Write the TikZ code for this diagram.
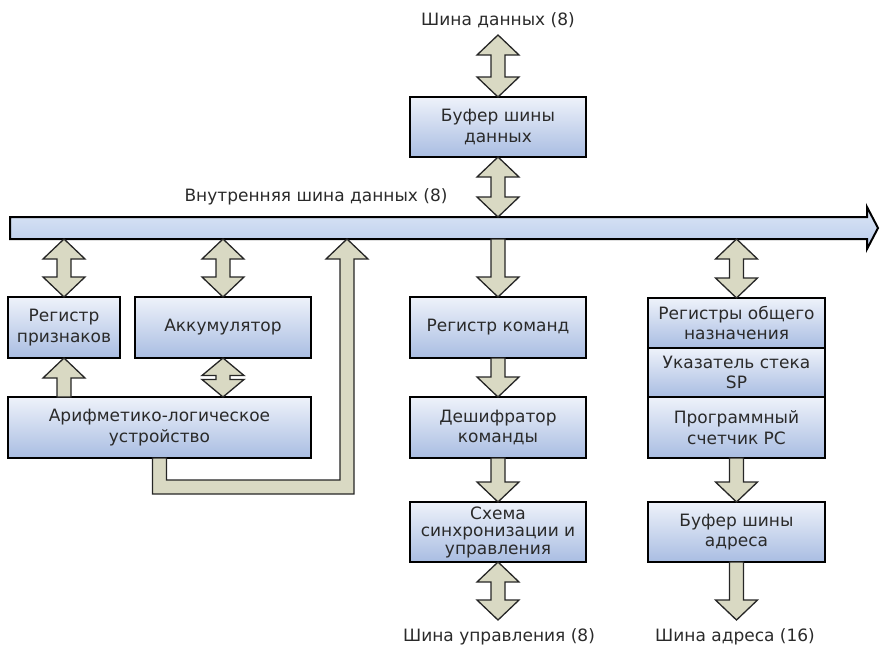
\documentclass[tikz,border=0pt]{standalone}
\usepackage{fontspec}
\setmainfont{DejaVu Sans}
\usetikzlibrary{calc}

\definecolor{boxtop}{HTML}{EEF2FA}
\definecolor{boxbot}{HTML}{A9BDE2}
\definecolor{bustop}{HTML}{DCE6F6}
\definecolor{busbot}{HTML}{B9CCEC}
\definecolor{arrfill}{HTML}{D9D9C3}
\definecolor{txt}{HTML}{2A2A2A}

% block arrows between two points on one vertical line
\newcommand\bothway[2]{%
  \path[blk] let \p1=#1, \p2=#2, \n1={min(20pt,(\y1-\y2-4pt)/2)} in
    (\x1,\y1) -- (\x1+21pt,\y1-\n1) -- (\x1+7pt,\y1-\n1) -- (\x1+7pt,\y2+\n1)
    -- (\x1+21pt,\y2+\n1) -- (\x1,\y2) -- (\x1-21pt,\y2+\n1) -- (\x1-7pt,\y2+\n1)
    -- (\x1-7pt,\y1-\n1) -- (\x1-21pt,\y1-\n1) -- cycle;}
\newcommand\downward[2]{%
  \path[blk] let \p1=#1, \p2=#2 in
    (\x1-7pt,\y1) -- (\x1+7pt,\y1) -- (\x1+7pt,\y2+20pt) -- (\x1+21pt,\y2+20pt)
    -- (\x1,\y2) -- (\x1-21pt,\y2+20pt) -- (\x1-7pt,\y2+20pt) -- cycle;}
\newcommand\upward[2]{%
  \path[blk] let \p1=#1, \p2=#2 in
    (\x1,\y1) -- (\x1+21pt,\y1-20pt) -- (\x1+7pt,\y1-20pt) -- (\x1+7pt,\y2)
    -- (\x1-7pt,\y2) -- (\x1-7pt,\y1-20pt) -- (\x1-21pt,\y1-20pt) -- cycle;}

\begin{document}
\begin{tikzpicture}[x=1pt,y=1pt,
    box/.style={draw=black, line width=2pt, top color=boxtop, bottom color=boxbot,
      inner sep=0pt, outer sep=0pt, align=center, text=txt,
      font=\fontsize{17}{20.5}\selectfont},
    blk/.style={fill=arrfill, draw=black!85, line width=1.3pt, line join=miter},
    lbl/.style={text=txt, font=\fontsize{17}{20}\selectfont, inner sep=0pt}]
  \useasboundingbox (0,0) rectangle (880,-648);

  % internal bus
  \node (bus) [minimum width=857pt, minimum height=22pt, inner sep=0pt, outer sep=0pt]
    at (438.5,-228) {};
  \path[draw=black, line width=2pt, top color=bustop, bottom color=busbot, line join=miter]
    (bus.north west) -- (bus.north east) -- ([yshift=10pt]bus.north east)
    -- ([xshift=11pt]bus.east) -- ([yshift=-10pt]bus.south east)
    -- (bus.south east) -- (bus.south west) -- cycle;
  \node (buslbl) [lbl] at (316,-197) {Внутренняя шина данных (8)};

  % boxes
  \node (flags) [box, minimum width=112pt, minimum height=61pt] at (64,-327.5) {Регистр\\признаков};
  \node (acc) [box, minimum width=176pt, minimum height=61pt] at (223,-327.5) {Аккумулятор};
  \node (alu) [box, minimum width=303pt, minimum height=61pt] at (159.5,-427.5) {Арифметико-логическое\\устройство};
  \node (dbuf) [box, minimum width=176pt, minimum height=60pt] at (498,-127) {Буфер шины\\данных};
  \node (ireg) [box, minimum width=176pt, minimum height=61pt] at (498,-327.5) {Регистр команд};
  \node (idec) [box, minimum width=176pt, minimum height=61pt] at (498,-427.5) {Дешифратор\\команды};
  \node (sync) [box, minimum width=176pt, minimum height=60pt, font=\fontsize{17}{17.5}\selectfont]
    at (498,-532) {Схема\\синхронизации и\\управления};
  \node (gpr) [box, minimum width=177pt, minimum height=50pt] at (736.5,-323) {Регистры общего\\назначения};
  \node (sp) [box, minimum width=177pt, minimum height=49pt] at (736.5,-372.5) {Указатель стека\\SP};
  \node (pc) [box, minimum width=177pt, minimum height=61pt] at (736.5,-427.5) {Программный\\счетчик PC};
  \node (abuf) [box, minimum width=177pt, minimum height=60pt] at (736.5,-532) {Буфер шины\\адреса};

  % outer labels
  \node (dbus) [lbl] at (498,-20) {Шина данных (8)};
  \node (cbus) [lbl] at (499,-637) {Шина управления (8)};
  \node (abus) [lbl] at (735,-637) {Шина адреса (16)};
  \coordinate (dbusend) at (498,-35);
  \coordinate (cbusend) at (498,-620);
  \coordinate (abusend) at (736.5,-620);

  % arrows
  \bothway{(dbusend)}{(dbuf.north)}
  \bothway{(dbuf.south)}{(bus.north -| dbuf.south)}
  \bothway{(bus.south -| flags.north)}{(flags.north)}
  \bothway{(bus.south -| acc.north)}{(acc.north)}
  \bothway{(acc.south)}{(alu.north -| acc.south)}
  \upward{(flags.south)}{(alu.north -| flags.south)}
  \downward{(bus.south -| ireg.north)}{(ireg.north)}
  \downward{(ireg.south)}{(idec.north)}
  \downward{(idec.south)}{(sync.north)}
  \bothway{(sync.south)}{(cbusend)}
  \bothway{(bus.south -| gpr.north)}{(gpr.north)}
  \downward{(pc.south)}{(abuf.north)}
  \downward{(abuf.south)}{(abusend)}

  % ALU result back to the bus
  \coordinate (aluret) at ($(bus.south -| acc.east)+(36,0)$);
  \coordinate (aluturn) at ($(alu.south)+(0,-29)$);
  \path[blk] let \p1=(alu.south), \p2=(aluret), \p3=(aluturn) in
    (\x1-7pt,\y1) -- (\x1-7pt,\y3-7pt) -- (\x2+7pt,\y3-7pt) -- (\x2+7pt,\y2-20pt)
    -- (\x2+21pt,\y2-20pt) -- (\x2,\y2) -- (\x2-21pt,\y2-20pt) -- (\x2-7pt,\y2-20pt)
    -- (\x2-7pt,\y3+7pt) -- (\x1+7pt,\y3+7pt) -- (\x1+7pt,\y1) -- cycle;
\end{tikzpicture}
\end{document}
